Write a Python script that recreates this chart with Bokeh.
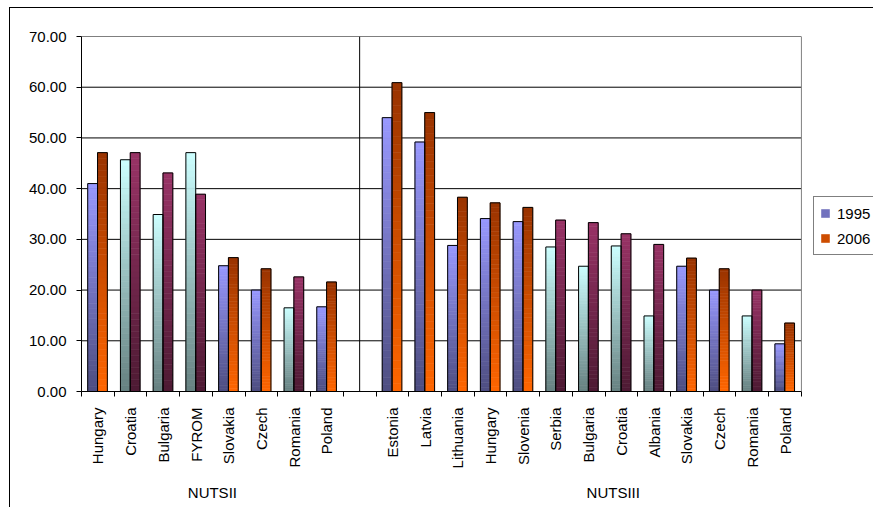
import math
import numpy as np
from bokeh.plotting import figure
from bokeh.models import (Range1d, FixedTicker, Span, Legend, LegendItem, LinearAxis,
                          ColumnDataSource, PrintfTickFormatter)
from bokeh.embed import file_html
from bokeh.resources import INLINE

# Regional disparity by country, 1995 vs 2006, at NUTS II and NUTS III level
groups = ["NUTSII", "NUTSIII"]
years = ["1995", "2006"]

nuts2_countries = ["Hungary", "Croatia", "Bulgaria", "FYROM", "Slovakia",
                   "Czech", "Romania", "Poland"]
nuts2_1995 = [41.0, 45.7, 34.9, 47.1, 24.8, 20.0, 16.5, 16.7]
nuts2_2006 = [47.1, 47.1, 43.1, 38.9, 26.4, 24.2, 22.6, 21.6]

nuts3_countries = ["Estonia", "Latvia", "Lithuania", "Hungary", "Slovenia",
                   "Serbia", "Bulgaria", "Croatia", "Albania", "Slovakia",
                   "Czech", "Romania", "Poland"]
nuts3_1995 = [54.0, 49.2, 28.8, 34.1, 33.5, 28.5, 24.7, 28.7, 14.9, 24.7,
              20.0, 14.9, 9.4]
nuts3_2006 = [60.9, 55.0, 38.3, 37.2, 36.3, 33.8, 33.3, 31.1, 29.0, 26.3,
              24.2, 20.0, 13.5]

y_ticks = [0, 10, 20, 30, 40, 50, 60, 70]

# countries that joined the EU in 2004 get the blue/orange scheme
eu_2004 = {"Hungary", "Slovakia", "Czech", "Poland", "Estonia", "Latvia",
           "Lithuania", "Slovenia"}

FONT = "Liberation Sans"
FS = "15px"

# gradient end colours (top, bottom) per scheme and year
SCHEMES = {
    True: {"1995": ("#9999FF", "#4D4D80"), "2006": ("#993300", "#FF6600")},
    False: {"1995": ("#CCFFFF", "#668080"), "2006": ("#993366", "#4D1A33")},
}


def hex_rgb(h):
    h = h.lstrip("#")
    return np.array([int(h[i:i + 2], 16) for i in (0, 2, 4)], dtype=float)


def mix(c0, c1, t):
    c = hex_rgb(c0) * (1 - t) + hex_rgb(c1) * t
    return "#%02x%02x%02x" % tuple(int(round(v)) for v in c)


# category slots: NUTSII countries, one empty slot, then NUTSIII countries
countries = nuts2_countries + [""] + nuts3_countries
vals = {"1995": nuts2_1995 + [None] + nuts3_1995,
        "2006": nuts2_2006 + [None] + nuts3_2006}
n_slots = len(countries)
centers = [i + 0.5 for i in range(n_slots)]

BAR_W = 0.3
N_SLICES = 40

# the frame also hosts the legend: bars occupy PLOT_PX of the FRAME_PX width
PLOT_PX, FRAME_PX = 719, 792
x_max = n_slots * FRAME_PX / PLOT_PX

p = figure(width=864, height=500, output_backend="svg", toolbar_location=None,
           x_range=Range1d(0, x_max), y_range=Range1d(0, 70),
           min_border_left=71, min_border_right=0, min_border_top=28,
           min_border_bottom=117, background_fill_color="white",
           border_fill_color="white", margin=(7, 0, 0, 9),
           styles={"border-top": "1px solid black",
                   "border-left": "1px solid black",
                   "box-sizing": "border-box"})
p.outline_line_color = None
p.xgrid.visible = False
p.ygrid.visible = False

# horizontal gridlines across the plot area only
p.segment(x0=[0] * len(y_ticks), x1=[n_slots] * len(y_ticks), y0=y_ticks,
          y1=y_ticks, line_color="black", line_width=1)
# right edge of the plot area
p.add_layout(Span(location=n_slots, dimension="height", line_color="#808080",
                  line_width=1))

# each bar is filled with thin horizontal bands to give a vertical gradient
slice_renderers = {}
outline = dict(left=[], right=[], top=[], bottom=[])
for j, year in enumerate(years):
    band = dict(left=[], right=[], top=[], bottom=[], color=[])
    for i, name in enumerate(countries):
        if not name:
            continue
        top_c, bot_c = SCHEMES[name in eu_2004][year]
        v = vals[year][i]
        left = centers[i] - 0.01 - BAR_W + j * BAR_W
        for k in range(N_SLICES):
            band["left"].append(left)
            band["right"].append(left + BAR_W)
            band["top"].append(v * (1 - k / N_SLICES))
            band["bottom"].append(v * (1 - (k + 1) / N_SLICES))
            band["color"].append(mix(top_c, bot_c, (k + 0.5) / N_SLICES))
        outline["left"].append(left)
        outline["right"].append(left + BAR_W)
        outline["top"].append(v)
        outline["bottom"].append(0)
    slice_renderers[year] = p.quad(left="left", right="right", top="top",
                                   bottom="bottom", fill_color="color",
                                   line_color="color", line_width=0.6,
                                   source=ColumnDataSource(band))

p.quad(left="left", right="right", top="top", bottom="bottom",
       fill_alpha=0, line_color="black", line_width=1,
       source=ColumnDataSource(outline))

# separator between the two regional levels
p.add_layout(Span(location=centers[len(nuts2_countries)], dimension="height",
                  line_color="black", line_width=1))

# value axis
p.yaxis.ticker = FixedTicker(ticks=y_ticks)
p.yaxis.formatter = PrintfTickFormatter(format="%.2f")
p.yaxis.major_tick_out = 5
p.yaxis.major_tick_in = 0
p.yaxis.minor_tick_line_color = None
p.yaxis.major_label_standoff = 10
p.yaxis.axis_line_color = "black"
p.yaxis.major_tick_line_color = "black"
p.yaxis.major_label_text_font = FONT
p.yaxis.major_label_text_font_size = FS
p.yaxis.major_label_text_color = "black"

# category axis: country names centred, ticks on slot boundaries
label_ticks = [centers[i] for i, n in enumerate(countries) if n]
p.xaxis.ticker = FixedTicker(ticks=label_ticks,
                             minor_ticks=list(range(n_slots + 1)))
p.xaxis.bounds = (0, n_slots)
p.xaxis.major_label_overrides = {centers[i]: n for i, n in enumerate(countries) if n}
p.xaxis.major_label_orientation = math.pi / 2
p.xaxis.major_tick_line_color = None
p.xaxis.major_tick_out = 0
p.xaxis.major_tick_in = 0
p.xaxis.minor_tick_out = 5
p.xaxis.minor_tick_in = 0
p.xaxis.minor_tick_line_color = "black"
p.xaxis.major_label_standoff = 11
p.xaxis.axis_line_color = "black"
p.xaxis.major_label_text_font = FONT
p.xaxis.major_label_text_font_size = FS
p.xaxis.major_label_text_color = "black"

# group captions on a second category level
n2 = len(nuts2_countries)
group_pos = [n2 / 2, 16.25]
group_axis = LinearAxis(ticker=FixedTicker(ticks=group_pos),
                        major_label_overrides={group_pos[0]: groups[0],
                                               group_pos[1]: groups[1]},
                        axis_line_color=None, major_tick_line_color=None,
                        minor_tick_line_color=None, major_tick_out=0,
                        major_tick_in=0, major_label_standoff=12,
                        major_label_text_font=FONT,
                        major_label_text_font_size=FS,
                        major_label_text_color="black")
p.add_layout(group_axis, "below")

# legend swatches take the mid-gradient band of the first bar of each year
mid = N_SLICES // 2
legend = Legend(items=[LegendItem(label=y, renderers=[slice_renderers[y]], index=mid)
                       for y in years],
                location=(732, 136), orientation="vertical",
                border_line_color="black", border_line_width=1,
                background_fill_color="white", background_fill_alpha=1,
                padding=6, spacing=5, label_height=20, glyph_width=10,
                glyph_height=10, label_standoff=7, margin=0,
                label_text_font=FONT, label_text_font_size=FS,
                label_text_color="black")
p.add_layout(legend)

open("out.html", "w").write(file_html(p, INLINE))
